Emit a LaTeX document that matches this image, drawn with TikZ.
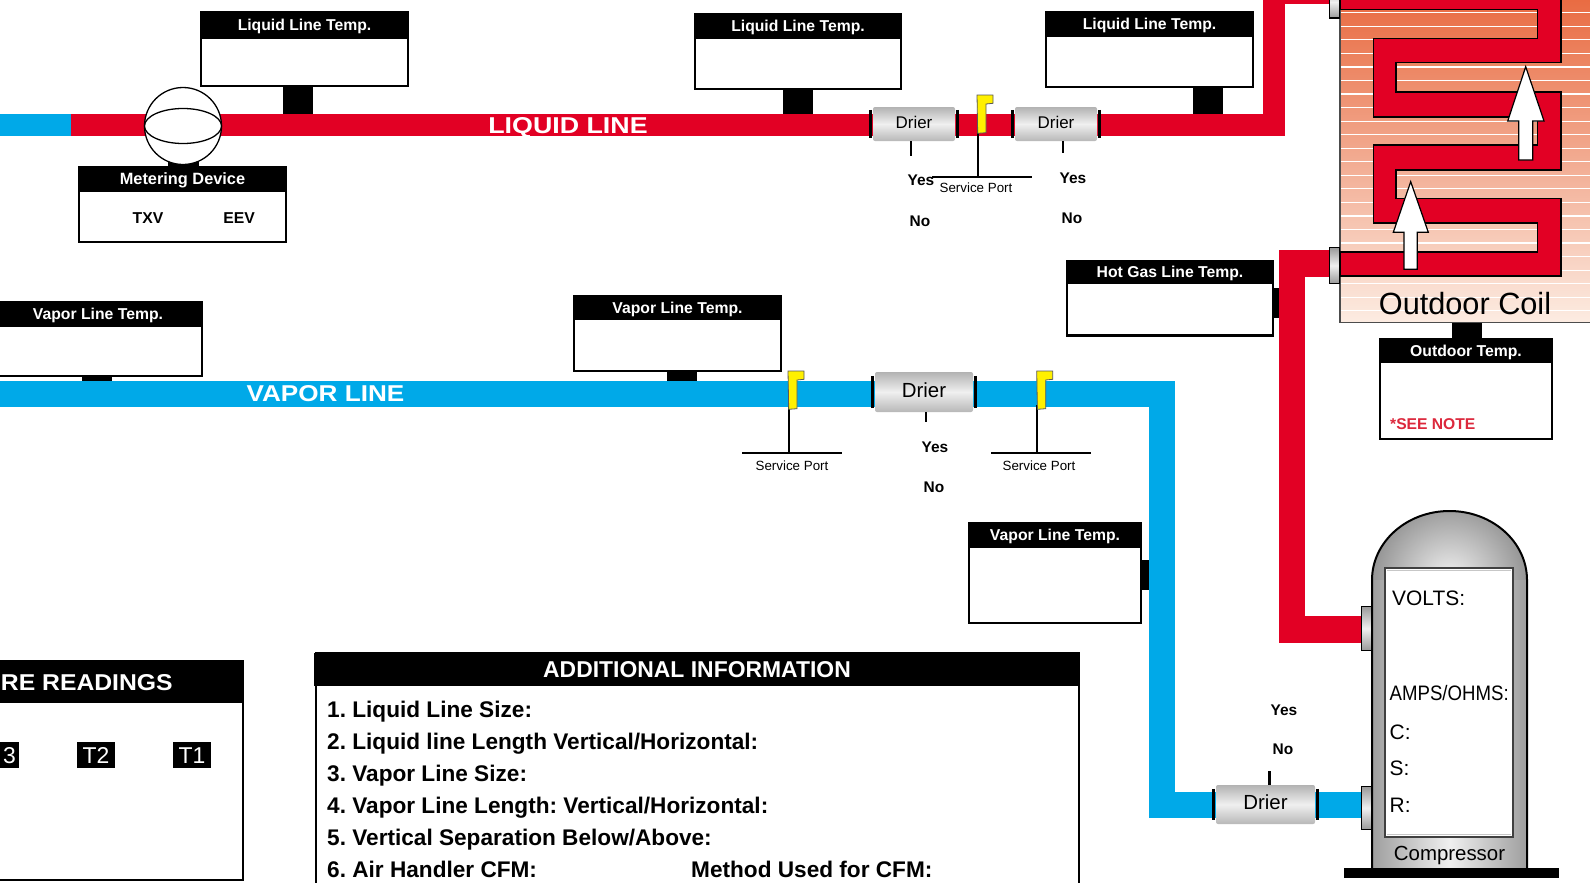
\documentclass[tikz,border=0pt]{standalone}
\usepackage{fontspec}
\setmainfont{Liberation Sans}
\frenchspacing
\usetikzlibrary{positioning,shapes.geometric}
\definecolor{pipered}{RGB}{226,0,36}
\definecolor{pipeblue}{RGB}{0,169,232}
\definecolor{notered}{RGB}{220,40,60}
\definecolor{coiltop}{RGB}{232,104,62}
\definecolor{coilbottom}{RGB}{252,236,226}
\definecolor{portyellow}{RGB}{255,240,0}
\newcommand{\fsz}[1]{\fontsize{#1}{#1}\selectfont}
\tikzset{
  plain/.style={inner sep=0pt,text height=.716*#1pt,text depth=0pt,font=\fsz{#1}},
  bold/.style={inner sep=0pt,text height=.716*#1pt,text depth=0pt,font=\fsz{#1}\bfseries},
  tbox/.style={draw,line width=2.5bp,fill=white,inner sep=0pt},
  ttitle/.style={bold=15.8,fill=black,text=white},
  stem/.style={line width=30bp,draw=black},
  stub/.style={line width=2.4bp,draw=black},
  answer/.style={bold=15.5},
  portlbl/.style={plain=13.4},
  info/.style={bold=22.7,anchor=west},
  volts/.style={plain=21,anchor=west},
  tag/.style={plain=23,fill=black,text=white,minimum height=26bp},
  liquidpipe/.style={line width=22bp,draw=pipered,line join=miter},
  hotpipe/.style={line width=26.5bp,draw=pipered,line join=miter},
  vaporpipe/.style={line width=26bp,draw=pipeblue,line join=miter},
  pipename/.style={bold=23,text=white},
  drier/.style={rounded corners=2bp,top color=black!30,bottom color=black!28,middle color=black!6,text depth=4bp},
  driercap/.style={line width=3.2bp,draw=black},
  coupling/.style={draw,line width=1.6bp,top color=black!40,bottom color=black!40,middle color=black!6,inner sep=0pt,minimum width=10bp},
  flag/.pic={\draw[line width=.8bp,draw=black!65,fill=portyellow] (0,0) -- (16,0) -- (16,8.3) -- (9,9) -- (9,37.7) -- (.7,38.3) -- cycle;},
  airarrow/.style={draw=black,line width=1.2bp,fill=white,line join=miter},
}
\begin{document}
\begin{tikzpicture}[x=1bp,y=-1bp]
\useasboundingbox (0,0) rectangle (1590,882);
%%
\node (liquidtempa) at (304.5,49) [tbox,minimum width=207bp,minimum height=74bp] {};
\node (liquidtempatitle) at (304.5,24.8) [ttitle,minimum width=209bp,minimum height=27.5bp] {Liquid Line Temp.};
\node (liquidtempb) at (798,51.5) [tbox,minimum width=206bp,minimum height=75bp] {};
\node (liquidtempbtitle) at (798,26) [ttitle,minimum width=208bp,minimum height=26bp] {Liquid Line Temp.};
\node (liquidtempc) at (1149.5,49.5) [tbox,minimum width=207bp,minimum height=75bp] {};
\node (liquidtempctitle) at (1149.5,24) [ttitle,minimum width=209bp,minimum height=26bp] {Liquid Line Temp.};
\node (vaportempa) at (98,339) [tbox,minimum width=208bp,minimum height=74bp] {};
\node (vaportempatitle) at (98,314) [ttitle,minimum width=210bp,minimum height=26bp] {Vapor Line Temp.};
\node (vaportempb) at (677.5,333.5) [tbox,minimum width=207bp,minimum height=75bp] {};
\node (vaportempbtitle) at (677.5,307.5) [ttitle,minimum width=209bp,minimum height=25bp] {Vapor Line Temp.};
\node (vaportempc) at (1055,573) [tbox,minimum width=172bp,minimum height=100bp] {};
\node (vaportempctitle) at (1055,535) [ttitle,minimum width=174bp,minimum height=26bp] {Vapor Line Temp.};
\node (hotgastemp) at (1170,298.7) [tbox,minimum width=206bp,minimum height=74bp] {};
\node (hotgastemptitle) at (1170,272.2) [ttitle,minimum width=208bp,minimum height=23.5bp] {Hot Gas Line Temp.};
\node (outdoortemp) at (1466,389) [tbox,minimum width=172bp,minimum height=100bp] {};
\node (outdoortemptitle) at (1466,350.5) [ttitle,minimum width=174bp,minimum height=25bp] {Outdoor Temp.};
\node (seenote) at (1390,424) [bold=15.7,anchor=west,text=notered] {*SEE NOTE};
\node (meterbox) at (182.5,204.5) [tbox,minimum width=207bp,minimum height=75bp] {};
\node (meterboxtitle) at (182.5,179) [ttitle,bold=16.4,minimum width=209bp,minimum height=26bp] {Metering Device};
\node (txv) at (148,218) [bold=15.8] {TXV};
\node (eev) at (239,218) [bold=15.8] {EEV};
%
\coordinate (liquida) at (298,124);
\coordinate (liquidb) at (798,124);
\coordinate (liquidc) at (1207.5,124);
\coordinate (vapora) at (96.5,394);
\coordinate (vaporb) at (681.5,394);
\coordinate (vaporc) at (1155,575);
\coordinate (hotgas) at (1285,303);
\coordinate (coilbase) at (1467,310);
\coordinate (meterstem) at (183,150);
\draw [stem] (liquidtempa.south -| liquida) -- (liquida);
\draw [stem] (liquidtempb.south -| liquidb) -- (liquidb);
\draw [stem] (liquidtempc.south -| liquidc) -- (liquidc);
\draw [stem] (vaportempa.south -| vapora) -- (vapora);
\draw [stem] (vaportempb.south -| vaporb) -- (vaporb);
\draw [stem] (vaportempc.east |- vaporc) -- (vaporc);
\draw [stem] (hotgastemp.east |- hotgas) -- (hotgas);
\draw [stem] (outdoortemp.north -| coilbase) -- (coilbase);
\draw [stem,line width=31bp] (meterboxtitle.north -| meterstem) -- (meterstem);
%
\coordinate (liquidend) at (-2,124.5);
\coordinate (liquidstart) at (71,124.5);
\coordinate (liquidcorner) at (1273.5,124.5);
\coordinate (liquidtop) at (1273.5,-7);
\coordinate (coilin) at (1330,-7);
\coordinate (hotin) at (1330,263.5);
\coordinate (hotcornera) at (1292,263.5);
\coordinate (hotcornerb) at (1292,629.5);
\coordinate (hotout) at (1362,629.5);
\coordinate (vaporend) at (-2,394);
\coordinate (vaporcornera) at (1161.5,394);
\coordinate (vaporcornerb) at (1161.5,804.5);
\coordinate (vaporout) at (1362,804.5);
\draw [line width=22bp,draw=pipeblue] (liquidend) -- (liquidstart);
\draw [liquidpipe] (liquidstart) -- (liquidcorner) -- (liquidtop) -- (coilin);
\draw [hotpipe] (hotin) -- (hotcornera) -- (hotcornerb) -- (hotout);
\draw [vaporpipe] (vaporend) -- (vaporcornera) -- (vaporcornerb) -- (vaporout);
\node (liquidname) at (568,125) [pipename,xscale=1.17] {LIQUID LINE};
\node (vaporname) at (325.5,393.5) [pipename,xscale=1.14] {VAPOR LINE};
%
\node (meterball) at (183,126) [circle,draw,line width=1.3bp,fill=white,inner sep=0pt,minimum size=77bp] {};
\node (meterdisc) at (183,126) [ellipse,draw,line width=1.3bp,fill=white,inner sep=0pt,minimum width=77bp,minimum height=35bp] {};
%
\node (driera) at (914,124) [plain=17,drier,minimum width=82bp,minimum height=34bp] {Drier};
\node (drierb) at (1056,124) [plain=17,drier,minimum width=82bp,minimum height=34bp] {Drier};
\node (drierc) at (924,392) [plain=20.5,drier,minimum width=98bp,minimum height=40bp] {Drier};
\node (drierd) at (1265.5,804.5) [plain=20.5,drier,minimum width=99bp,minimum height=39bp] {Drier};
\draw [driercap] ([xshift=-2bp,yshift=-3bp]driera.north west) -- ([xshift=-2bp,yshift=3bp]driera.south west);
\draw [driercap] ([xshift=2bp,yshift=-3bp]driera.north east) -- ([xshift=2bp,yshift=3bp]driera.south east);
\draw [driercap] ([xshift=-2bp,yshift=-3bp]drierb.north west) -- ([xshift=-2bp,yshift=3bp]drierb.south west);
\draw [driercap] ([xshift=2bp,yshift=-3bp]drierb.north east) -- ([xshift=2bp,yshift=3bp]drierb.south east);
\draw [driercap] ([xshift=-2bp,yshift=-4bp]drierc.north west) -- ([xshift=-2bp,yshift=4bp]drierc.south west);
\draw [driercap] ([xshift=2bp,yshift=-4bp]drierc.north east) -- ([xshift=2bp,yshift=4bp]drierc.south east);
\draw [driercap] ([xshift=-2bp,yshift=-4bp]drierd.north west) -- ([xshift=-2bp,yshift=4bp]drierd.south west);
\draw [driercap] ([xshift=2bp,yshift=-4bp]drierd.north east) -- ([xshift=2bp,yshift=4bp]drierd.south east);
\coordinate (stuba) at (911,156);
\coordinate (stubb) at (1063,153);
\coordinate (stubc) at (926,422);
\coordinate (stubd) at (1269.5,771);
\draw [stub] (driera.south -| stuba) -- (stuba);
\draw [stub] (drierb.south -| stubb) -- (stubb);
\draw [stub] (drierc.south -| stubc) -- (stubc);
\draw [stub] (drierd.north -| stubd) -- (stubd);
\node (yesa) at (921,180) [answer] {Yes};
\node (noa) at (920,221) [answer] {No};
\node (yesb) at (1073,178) [answer] {Yes};
\node (nob) at (1072,218) [answer] {No};
\node (yesc) at (935,447) [answer] {Yes};
\node (noc) at (934,487) [answer] {No};
\node (yesd) at (1284,710) [answer] {Yes};
\node (nod) at (1283,749) [answer] {No};
%
\coordinate (portatop) at (978,130);
\coordinate (portabar) at (978,177);
\coordinate (portbtop) at (789,405);
\coordinate (portbbar) at (789,453);
\coordinate (portctop) at (1037,405);
\coordinate (portcbar) at (1037,453);
\draw [stub] (portatop) -- (portabar);
\draw [stub] (portbtop) -- (portbbar);
\draw [stub] (portctop) -- (portcbar);
\draw [stub] ([xshift=-46bp]portabar) -- ([xshift=54bp]portabar);
\draw [stub] ([xshift=-47bp]portbbar) -- ([xshift=53bp]portbbar);
\draw [stub] ([xshift=-46bp]portcbar) -- ([xshift=54bp]portcbar);
\pic (flaga) at (977,95) {flag};
\pic (flagb) at (788,371) {flag};
\pic (flagc) at (1036.7,371) {flag};
\node (porta) at (976,188) [portlbl] {Service Port};
\node (portb) at (792,466) [portlbl] {Service Port};
\node (portc) at (1039,466) [portlbl] {Service Port};
%
\node (coil) at (1480,156.3) [draw=black!70,line width=1.5bp,top color=coiltop,bottom color=coilbottom,inner sep=0pt,minimum width=280bp,minimum height=332bp] {};
\foreach \k in {0,...,22}
  \draw [white,line width=1.2bp] (1341,12.7+13.55*\k) -- (1590,12.7+13.55*\k);
\draw [line width=1.6bp,fill=pipered,line join=miter] (1340,276) -- (1560.7,276) -- (1560.7,198.3) -- (1396,198.3) -- (1396,170) -- (1560.7,170) -- (1560.7,91.7) -- (1396,91.7) -- (1396,62.3) -- (1560.7,62.3) -- (1560.7,-5) -- (1340,-5) -- (1340,9.3) -- (1537.3,9.3) -- (1537.3,38.3) -- (1373.3,38.3) -- (1373.3,116.7) -- (1537.3,116.7) -- (1537.3,145) -- (1373.3,145) -- (1373.3,222.7) -- (1537.3,222.7) -- (1537.3,251.7) -- (1340,251.7) -- cycle;
\draw [airarrow] (1525.7,66.7) -- (1544,121) -- (1532.7,121) -- (1532.7,160) -- (1518.7,160) -- (1518.7,121) -- (1507.7,121) -- cycle;
\draw [airarrow] (1410.7,181.7) -- (1428.3,232.3) -- (1417.3,232.3) -- (1417.3,269.3) -- (1404,269.3) -- (1404,232.3) -- (1393.3,232.3) -- cycle;
\node (coilname) at (1465,304) [plain=30.8] {Outdoor Coil};
\node (couplinga) at (1334.5,2) [coupling,minimum height=32bp] {};
\node (couplingb) at (1334.5,265.5) [coupling,minimum height=36bp] {};
%
\begin{scope}
\clip (1372,580) arc[start angle=180,end angle=360,x radius=77.5,y radius=69] -- cycle;
\shade [inner color=black!5,outer color=black!42] (1449.5,580) circle [radius=78];
\end{scope}
\shade [left color=black!38,right color=black!38,middle color=black!6] (1372,580) rectangle (1527,868);
\draw [line width=2bp] (1372,868) -- (1372,580) arc[start angle=180,end angle=360,x radius=77.5,y radius=69] -- (1527,868);
\node (panel) at (1449,702.5) [draw=black!75,line width=1.3bp,fill=white,inner sep=0pt,minimum width=128bp,minimum height=269bp] {};
\draw [black!22,line width=1bp] ([xshift=3bp,yshift=-3.5bp]panel.north west) -- ([xshift=-3bp,yshift=-3.5bp]panel.north east);
\draw [black!22,line width=1bp] ([xshift=3bp,yshift=3.5bp]panel.south west) -- ([xshift=-3bp,yshift=3.5bp]panel.south east);
\node (voltslbl) at (1392,598) [volts] {VOLTS:};
\node (ampslbl) at (1389.5,693) [volts,xscale=.89] {AMPS/OHMS:};
\node (clbl) at (1389.5,732) [volts] {C:};
\node (slbl) at (1389.5,768) [volts] {S:};
\node (rlbl) at (1389.5,805) [volts] {R:};
\node (compname) at (1449.5,853) [plain=20.5] {Compressor};
\node (compbase) at (1451.5,873) [fill=black,inner sep=0pt,minimum width=215bp,minimum height=10bp] {};
\node (couplingc) at (1366.5,628.5) [coupling,minimum height=44bp] {};
\node (couplingd) at (1366.5,808) [coupling,minimum height=43bp] {};
%
\node (readings) at (118,771) [tbox,minimum width=250bp,minimum height=218bp] {};
\node (readingstitle) at (118,681.5) [fill=black,inner sep=0pt,minimum width=252bp,minimum height=43bp] {};
\node (readingslabel) at (173,682) [bold=23,anchor=east,text=white,xscale=1.08] {RE READINGS};
\node (tagc) at (9.5,755) [tag,minimum width=19bp] {3};
\node (tagb) at (96,755) [tag,minimum width=38bp] {T2};
\node (taga) at (192,755) [tag,minimum width=38bp] {T1};
%
\node (addinfo) at (697.5,780) [tbox,minimum width=763bp,minimum height=254bp] {};
\node (addinfotitle) at (697,669) [bold=23,fill=black,text=white,minimum width=766bp,minimum height=33bp] {ADDITIONAL INFORMATION};
\node (infoa) at (327,709.5) [info] {1. Liquid Line Size:};
\node (infob) at (327,741.5) [info] {2. Liquid line Length Vertical/Horizontal:};
\node (infoc) at (327,773) [info] {3. Vapor Line Size:};
\node (infod) at (327,805) [info] {4. Vapor Line Length: Vertical/Horizontal:};
\node (infoe) at (327,837) [info] {5. Vertical Separation Below/Above:};
\node (infof) at (327,869) [info] {6. Air Handler CFM:};
\node (infog) at (691,869) [info] {Method Used for CFM:};
%
\end{tikzpicture}
\end{document}
